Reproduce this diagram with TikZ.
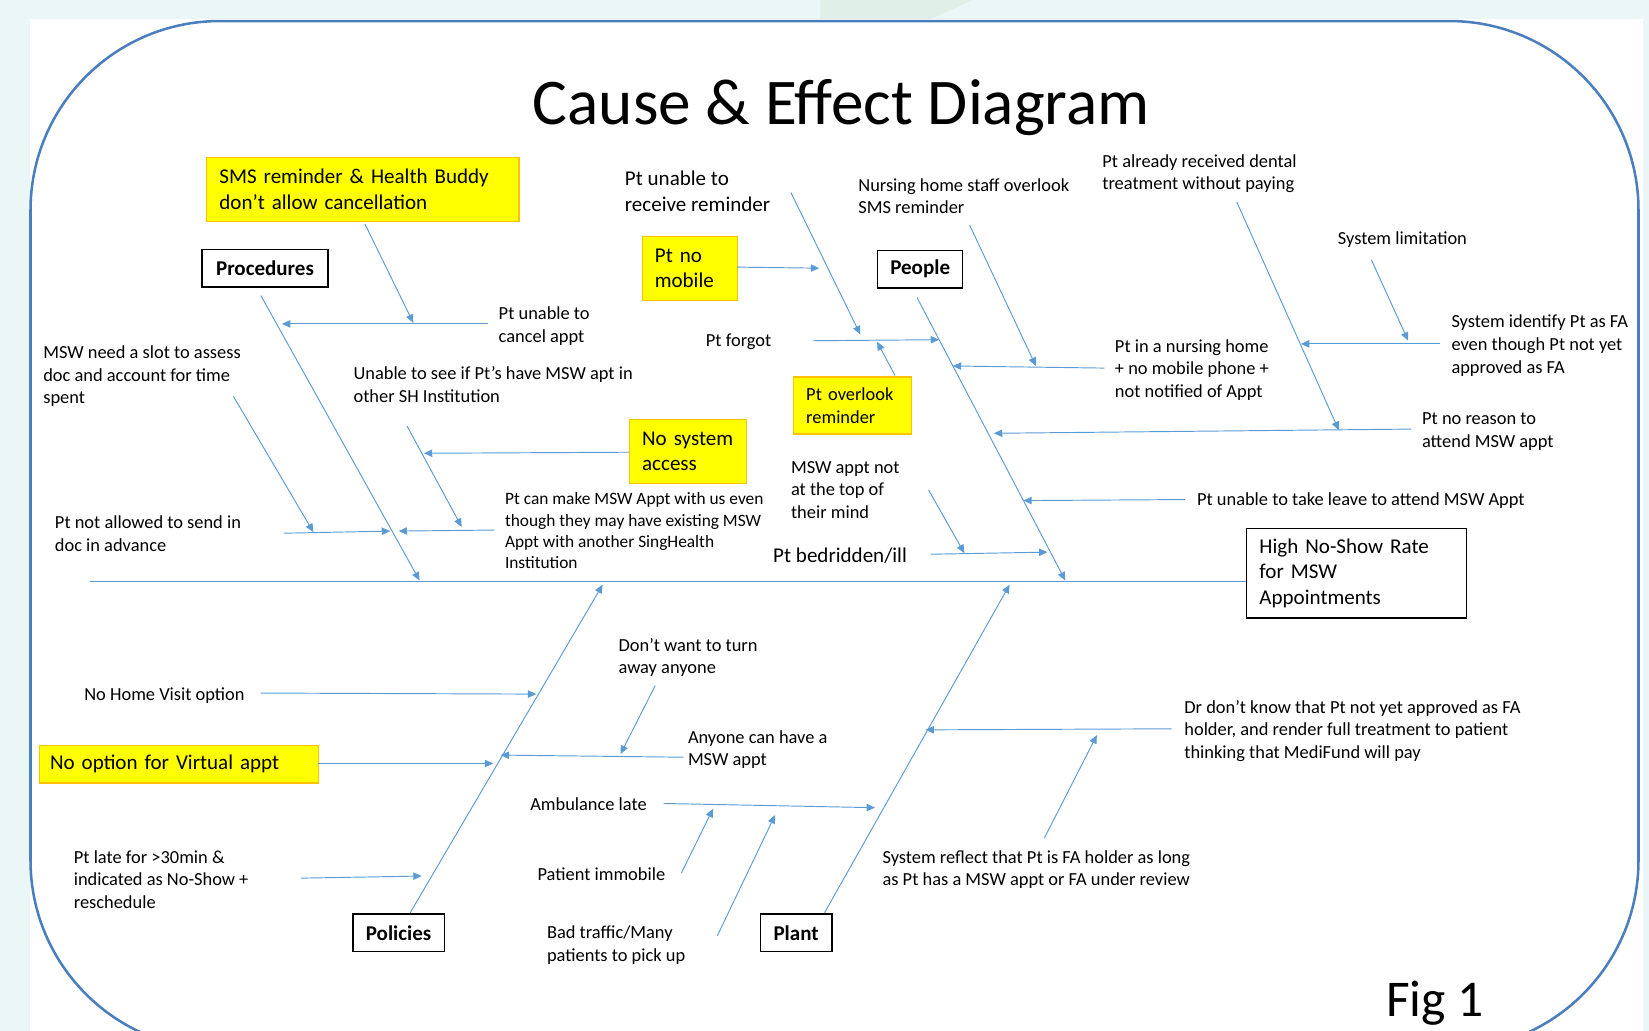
\documentclass[tikz,border=0pt]{standalone}
\usepackage{fontspec}
\setmainfont{Carlito}
\usetikzlibrary{arrows.meta, positioning}

\definecolor{bonecol}{RGB}{91,155,213}
\definecolor{framecol}{RGB}{74,126,190}
\definecolor{bgcyan}{RGB}{235,246,247}
\definecolor{bggreen}{RGB}{224,240,232}
\definecolor{hlyellow}{RGB}{255,255,0}
\definecolor{hlborder}{RGB}{255,192,0}

\begin{document}
\begin{tikzpicture}[x=1pt, y=-1pt,
  every node/.style={inner sep=0pt},
  small/.style={font=\fontsize{17.5}{21.5}\selectfont},
  big/.style={font=\fontsize{20}{24.5}\selectfont},
  lbl/.style={small, align=left, anchor=north west, yshift=-1.5pt},
  cat/.style={draw=black, line width=1.3pt, fill=white, minimum height=36pt,
    font=\bfseries\fontsize{20}{24}\selectfont},
  hl/.style={big, fill=hlyellow, draw=hlborder, line width=1.2pt, align=left,
    inner xsep=12pt, anchor=north west},
  sub/.style={draw=bonecol, line width=0.9pt, -{Triangle[length=8pt,width=7pt]}},
  spine/.style={draw=bonecol, line width=1.2pt}]

  \useasboundingbox (0,0) rectangle (1568,980);
  \fill[bgcyan] (0,0) rectangle (1568,980);
  \fill[bggreen] (780,0) -- (925,0) -- (885,18) -- (780,18) -- cycle;
  \fill[white] (29,18) rectangle (1562,980);
  \begin{scope}
    \clip (0,0) rectangle (1568,980);
    \draw[framecol, line width=2.4pt, rounded corners=180pt] (29,20) rectangle (1558,998);
  \end{scope}

  \node[font=\fontsize{62}{70}\selectfont, anchor=base] (title) at (800,118) {Cause \& Effect Diagram};
  \node[font=\fontsize{49}{56}\selectfont, anchor=base west] (fig) at (1318,967) {Fig 1};

  % effect and categories
  \node[big, draw=black, line width=1.2pt, fill=white, align=left, inner xsep=12pt,
    anchor=north west, text width=185pt, minimum height=85pt] (effect) at (1185,502)
    {High No-Show Rate\\for MSW\\Appointments};
  \node[cat, minimum width=120pt] (proc) at (252,255) {Procedures};
  \node[cat, minimum width=81pt] (peop) at (875,256) {People};
  \node[cat, minimum width=87pt] (pol) at (379,887) {Policies};
  \node[cat, minimum width=68pt] (plant) at (757,887) {Plant};

  % highlighted causes
  \node[hl, text width=273pt, minimum height=61pt] (sms) at (196,149) {SMS reminder \& Health Buddy\\don’t allow cancellation};
  \node[hl, text width=67pt, minimum height=61pt] (nomobile) at (610,224) {Pt no\\mobile};
  \node[hl, text width=87pt, minimum height=61pt] (nosys) at (598,398) {No system\\access};
  \node[hl, small, text width=88pt, minimum height=54pt] (overlook) at (754,358) {Pt overlook\\reminder};
  \node[hl, inner xsep=10pt, text width=245pt, minimum height=36pt] (virtual) at (37,708) {No option for Virtual appt};

  % causes
  \node[lbl] (cancel) at (474,290) {Pt unable to\\cancel appt};
  \node[lbl] (slot) at (41,327) {MSW need a slot to assess\\doc and account for time\\spent};
  \node[lbl] (advance) at (52,489) {Pt not allowed to send in\\doc in advance};
  \node[lbl] (seeapt) at (336,347) {Unable to see if Pt’s have MSW apt in\\other SH Institution};
  \node[lbl, font=\fontsize{16.5}{20}\selectfont] (makeappt) at (480,467) {Pt can make MSW Appt with us even\\though they may have existing MSW\\Appt with another SingHealth\\Institution};
  \node[lbl, big] (receive) at (594,161) {Pt unable to\\receive reminder};
  \node[lbl] (forgot) at (671,316) {Pt forgot};
  \node[lbl] (nhstaff) at (816,168) {Nursing home staff overlook\\SMS reminder};
  \node[lbl] (nhome) at (1060,321) {Pt in a nursing home\\+ no mobile phone +\\not notified of Appt};
  \node[lbl] (dental) at (1048,145) {Pt already received dental\\treatment without paying};
  \node[lbl] (syslimit) at (1272,219) {System limitation};
  \node[lbl] (sysid) at (1380,298) {System identify Pt as FA\\even though Pt not yet\\approved as FA};
  \node[lbl] (noreason) at (1352,391) {Pt no reason to\\attend MSW appt};
  \node[lbl] (leave) at (1138,467) {Pt unable to take leave to attend MSW Appt};
  \node[lbl] (topmind) at (752,437) {MSW appt not\\at the top of\\their mind};
  \node[lbl, big] (bedridden) at (735,519) {Pt bedridden/ill};
  \node[lbl] (homevisit) at (80,652) {No Home Visit option};
  \node[lbl] (turnaway) at (588,605) {Don’t want to turn\\away anyone};
  \node[lbl] (anyone) at (654,693) {Anyone can have a\\MSW appt};
  \node[lbl] (late) at (70,807) {Pt late for >30min \&\\indicated as No-Show +\\reschedule};
  \node[lbl] (ambulance) at (504,757) {Ambulance late};
  \node[lbl] (immobile) at (511,823) {Patient immobile};
  \node[lbl] (traffic) at (520,879) {Bad traffic/Many\\patients to pick up};
  \node[lbl] (drknow) at (1126,664) {Dr don’t know that Pt not yet approved as FA\\holder, and render full treatment to patient\\thinking that MediFund will pay};
  \node[lbl] (sysreflect) at (839,807) {System reflect that Pt is FA holder as long\\as Pt has a MSW appt or FA under review};

  % spine and main bones
  \coordinate (tail) at (86,553);
  \draw[spine] (tail) -- (tail -| effect.west);
  \coordinate (procA) at (248,281);   \coordinate (procB) at (399,552);
  \coordinate (peopA) at (872,283);   \coordinate (peopB) at (1013,552);
  \coordinate (polA) at (390,868);    \coordinate (polB) at (573,556);
  \coordinate (plantA) at (784,868);  \coordinate (plantB) at (960,556);

  % procedures branch
  \coordinate (smsA) at (347,213);      \coordinate (smsB) at (393,307);
  \coordinate (cancelA) at (464,308);   \coordinate (cancelB) at (268,308);
  \coordinate (slotA) at (222,377);     \coordinate (slotB) at (298,506);
  \coordinate (advanceA) at (270,507);  \coordinate (advanceB) at (371,505);
  \coordinate (seeaptA) at (387,405);   \coordinate (seeaptB) at (439,501);
  \coordinate (nosysA) at (598,430);    \coordinate (nosysB) at (403,431);
  \coordinate (makeapptA) at (470,504); \coordinate (makeapptB) at (379,505);

  % people branch
  \coordinate (receiveA) at (752,183);   \coordinate (receiveB) at (818,318);
  \coordinate (nomobileA) at (701,254);  \coordinate (nomobileB) at (779,255);
  \coordinate (forgotA) at (773,324);    \coordinate (forgotB) at (893,323);
  \coordinate (overlookA) at (851,357);  \coordinate (overlookB) at (834,325);
  \coordinate (nhstaffA) at (922,214);   \coordinate (nhstaffB) at (985,348);
  \coordinate (nhomeA) at (1050,350);    \coordinate (nhomeB) at (906,348);
  \coordinate (dentalA) at (1176,192);   \coordinate (dentalB) at (1273,409);
  \coordinate (syslimitA) at (1304,247); \coordinate (syslimitB) at (1339,324);
  \coordinate (sysidA) at (1369,327);    \coordinate (sysidB) at (1237,327);
  \coordinate (noreasonA) at (1342,408); \coordinate (noreasonB) at (945,412);
  \coordinate (leaveA) at (1127,475);    \coordinate (leaveB) at (973,476);
  \coordinate (topmindA) at (883,466);   \coordinate (topmindB) at (917,526);
  \coordinate (bedA) at (885,527);       \coordinate (bedB) at (996,525);

  % policies branch
  \coordinate (homeA) at (248,659);     \coordinate (homeB) at (510,660);
  \coordinate (virtualA) at (302,726);  \coordinate (virtualB) at (469,726);
  \coordinate (turnA) at (623,652);     \coordinate (turnB) at (590,717);
  \coordinate (anyoneA) at (650,720);   \coordinate (anyoneB) at (476,718);
  \coordinate (lateA) at (286,835);     \coordinate (lateB) at (401,833);

  % plant branch
  \coordinate (ambA) at (631,764);      \coordinate (ambB) at (832,768);
  \coordinate (immA) at (648,830);      \coordinate (immB) at (678,769);
  \coordinate (trafficA) at (682,890);  \coordinate (trafficB) at (737,775);
  \coordinate (drA) at (1114,693);      \coordinate (drB) at (880,694);
  \coordinate (reflA) at (993,797);     \coordinate (reflB) at (1043,699);

  \foreach \c in {proc, peop, pol, plant,
      sms, cancel, slot, advance, seeapt, nosys, makeappt,
      receive, nomobile, forgot, overlook, nhstaff, nhome, dental, syslimit,
      sysid, noreason, leave, topmind, bed,
      home, virtual, turn, anyone, late,
      amb, imm, traffic, dr, refl}
    \draw[sub] (\c A) -- (\c B);
\end{tikzpicture}
\end{document}
